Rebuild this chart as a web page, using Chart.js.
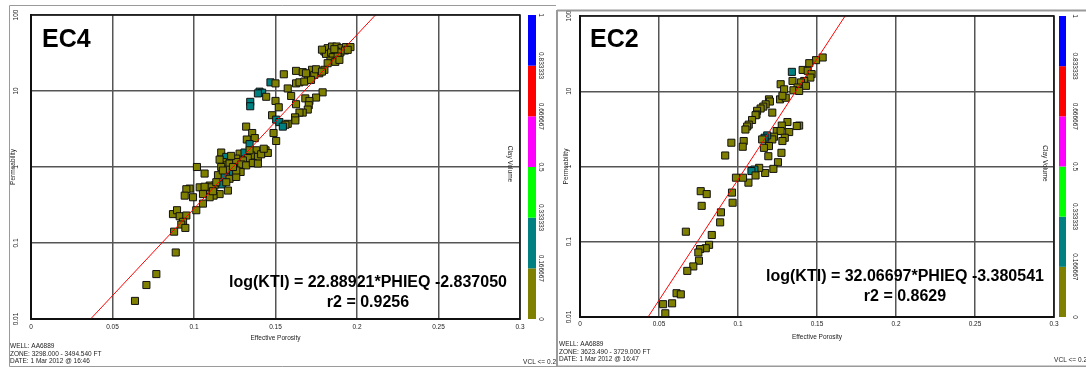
<!DOCTYPE html>
<html><head><meta charset="utf-8">
<script src="https://cdn.jsdelivr.net/npm/chart.js@4/dist/chart.umd.min.js"></script>
<style>
html,body{margin:0;padding:0;background:#fff;overflow:hidden;width:1086px;height:367px}
#c1{position:absolute;left:0;top:0}
#c2{position:absolute;left:556px;top:0}
</style></head><body>
<canvas id="c1" width="556" height="367"></canvas>
<canvas id="c2" width="530" height="367"></canvas>
<script>
// ---- axes / legend ----
const xTicks = [0, 0.05, 0.1, 0.15, 0.2, 0.25, 0.3];
const xTickLabels = ['0', '0.05', '0.1', '0.15', '0.2', '0.25', '0.3'];
const yTicks = [0.01, 0.1, 1, 10, 100];
const yTickLabels = ['0.01', '0.1', '1', '10', '100'];
const clayStops = [0, 0.166667, 0.333333, 0.5, 0.666667, 0.833333, 1];
const clayLabels = ['0', '0.166667', '0.333333', '0.5', '0.666667', '0.833333', '1'];
const clayColors = ['#808000', '#008080', '#00ff00', '#ff00ff', '#ff0000', '#0000ff'];

// ---- EC4 ----
const ec4Phi = [0.180,0.182,0.1847,0.1875,0.1904,0.1932,0.196,0.181,0.1841,0.1871,
 0.1898,0.1926,0.1851,0.1881,0.1837,0.1867,0.1892,0.182,0.1785,0.1861,
 0.1943,0.1551,0.1626,0.1667,0.1724,0.1698,0.1769,0.18,0.1738,0.1626,
 0.1647,0.1677,0.1718,0.1469,0.15,0.1575,0.1402,0.1418,0.1392,0.1443,
 0.1596,0.1789,0.1749,0.1345,0.1345,0.15,0.1683,0.1708,0.1626,0.152,
 0.1704,0.1698,0.1667,0.1647,0.162,0.1479,0.1622,0.1504,0.1524,0.1575,
 0.1561,0.132,0.1545,0.1488,0.1357,0.1504,0.1324,0.1373,0.1341,0.1167,
 0.1198,0.128,0.131,0.1381,0.1439,0.1453,0.1351,0.133,0.1392,0.1412,
 0.13,0.1259,0.1177,0.1198,0.1218,0.1259,0.129,0.132,0.1361,0.1392,
 0.1286,0.1208,0.1239,0.1167,0.1018,0.1065,0.1147,0.1188,0.1218,0.1259,
 0.1259,0.1173,0.1198,0.1126,0.1096,0.1035,0.1086,0.1106,0.1208,0.1157,
 0.112,0.1096,0.1055,0.0973,0.0953,0.0943,0.0994,0.1055,0.1014,0.0871,
 0.0896,0.0912,0.0953,0.0933,0.0922,0.0947,0.0878,0.0888,0.0769,0.0708,
 0.0638,0.1157,0.1228,0.1341,0.1428,0.1239,0.1177,0.1137,0.1065,0.1116,
 0.1749,0.1785,0.1687];
const ec4Perm = [33.1,36.6,38.5,38.5,36.6,37.8,37.8,30.8,32.1,33.1,
 32.1,34.1,27.9,28.4,25.1,24.2,25.7,23.2,35.0,35.5,
 34.8,16.6,18.4,17.7,19.0,15.5,17.1,19.0,16.3,12.6,
 13.0,13.3,14.0,13.0,12.6,10.8,9.8,9.5,9.3,8.4,
 8.6,9.6,8.2,7.2,6.3,7.4,8.0,7.4,6.7,6.1,
 6.5,5.7,5.2,5.2,4.5,4.8,4.1,4.2,3.9,3.7,
 3.6,3.4,3.4,2.8,2.8,2.2,2.3,2.4,2.0,1.55,
 1.36,1.50,1.55,1.66,1.66,1.53,1.42,1.31,1.36,1.47,
 1.22,1.29,1.16,1.05,1.11,1.16,1.08,1.05,1.13,1.11,
 0.86,0.92,0.86,1.0,1.0,0.82,0.78,0.74,0.70,0.74,
 0.90,0.59,0.63,0.57,0.57,0.54,0.50,0.54,0.49,0.44,
 0.42,0.40,0.44,0.52,0.51,0.42,0.40,0.33,0.27,0.24,
 0.27,0.225,0.23,0.19,0.175,0.158,0.141,0.075,0.039,0.028,
 0.0173,1.25,1.40,1.66,1.74,1.0,0.90,0.63,0.55,0.48,
 19.3,18.0,17.1];
const ec4Vcl = [0.1,0.1,0.1,0.1,0.1,0.1,0.1,0.1,0.1,0.1,
 0.1,0.1,0.1,0.1,0.1,0.1,0.1,0.1,0.1,0.1,
 0.1,0.1,0.1,0.1,0.1,0.1,0.1,0.1,0.1,0.1,
 0.1,0.1,0.1,0.22,0.1,0.1,0.22,0.22,0.22,0.1,
 0.1,0.1,0.1,0.22,0.22,0.1,0.1,0.1,0.1,0.1,
 0.1,0.1,0.1,0.1,0.1,0.1,0.1,0.22,0.22,0.1,
 0.1,0.1,0.22,0.1,0.1,0.1,0.1,0.1,0.22,0.1,
 0.22,0.1,0.22,0.1,0.1,0.1,0.1,0.1,0.1,0.1,
 0.1,0.1,0.1,0.1,0.1,0.1,0.1,0.1,0.1,0.1,
 0.1,0.1,0.22,0.1,0.1,0.1,0.1,0.22,0.1,0.1,
 0.1,0.22,0.1,0.1,0.1,0.1,0.1,0.1,0.1,0.1,
 0.1,0.1,0.1,0.1,0.1,0.1,0.1,0.1,0.1,0.1,
 0.1,0.1,0.1,0.1,0.1,0.1,0.1,0.1,0.1,0.1,
 0.1,0.1,0.1,0.1,0.1,0.1,0.1,0.1,0.1,0.1,
 0.1,0.1,0.1];
const ec4Fit = [22.88921, -2.837050];
const ec4R2 = 0.9256;
const ec4Footer = ['WELL: AA6889', 'ZONE: 3298.000 - 3494.540 FT', 'DATE: 1 Mar 2012 @ 16:46'];

// ---- EC2 ----
const ec2Phi = [0.1536,0.1494,0.1451,0.1409,0.1441,0.1466,0.1458,0.1341,0.1345,0.1419,
 0.1398,0.143,0.1377,0.1351,0.1387,0.127,0.1292,0.1266,0.1302,0.1281,
 0.1196,0.1202,0.1175,0.116,0.1143,0.1121,0.1117,0.1111,0.1217,0.1089,
 0.1068,0.1058,0.1047,0.1313,0.1277,0.1245,0.127,0.1324,0.1387,0.1372,
 0.1296,0.1281,0.1228,0.1217,0.1185,0.1168,0.1153,0.1196,0.1164,0.1036,
 0.103,0.0958,0.0919,0.1275,0.1192,0.1253,0.1224,0.1172,0.1134,0.1104,
 0.1085,0.1111,0.1066,0.1032,0.0987,0.0962,0.0966,0.0764,0.0802,0.077,
 0.0892,0.0887,0.0834,0.067,0.0817,0.0796,0.076,0.0749,0.0753,0.0717,
 0.0679,0.0611,0.0638,0.0583,0.0526,0.054];
const ec2Perm = [28.1,25.9,23.6,19.2,18.7,16.9,15.2,18.1,13.7,13.7,
 13.1,11.8,11.2,10.3,10.1,12.4,10.6,7.8,8.2,8.7,
 7.8,7.3,6.7,6.25,5.9,5.5,4.9,4.8,5.2,4.15,
 3.6,3.4,3.1,3.9,3.5,2.96,2.96,2.87,3.5,3.45,
 2.41,2.18,2.49,2.29,2.59,2.41,2.29,1.87,1.77,2.18,
 1.83,2.07,1.40,1.52,1.37,1.14,0.93,0.82,0.96,0.91,
 0.87,0.76,0.61,0.71,0.71,0.45,0.33,0.47,0.43,0.30,
 0.246,0.181,0.123,0.136,0.091,0.082,0.080,0.072,0.056,0.047,
 0.041,0.0207,0.020,0.0152,0.0148,0.0112];
const ec2Vcl = [0.1,0.1,0.1,0.1,0.1,0.1,0.1,0.22,0.1,0.1,
 0.1,0.1,0.1,0.1,0.1,0.1,0.1,0.1,0.1,0.1,
 0.1,0.1,0.1,0.1,0.1,0.1,0.1,0.1,0.1,0.1,
 0.1,0.1,0.1,0.1,0.1,0.1,0.1,0.1,0.1,0.1,
 0.1,0.1,0.1,0.1,0.22,0.22,0.1,0.1,0.1,0.1,
 0.1,0.1,0.1,0.1,0.1,0.1,0.1,0.1,0.1,0.22,
 0.22,0.1,0.1,0.1,0.1,0.1,0.1,0.1,0.1,0.1,
 0.1,0.1,0.1,0.1,0.1,0.1,0.1,0.1,0.1,0.1,
 0.1,0.1,0.1,0.1,0.1,0.1];
const ec2Fit = [32.06697, -3.380541];
const ec2R2 = 0.8629;
const ec2Footer = ['WELL: AA6889', 'ZONE: 3623.490 - 3729.000 FT', 'DATE: 1 Mar 2012 @ 16:47'];

// ---------------------------------------------------------------
const FONT = '"Liberation Sans", Arial, sans-serif';
Chart.defaults.font.family = FONT;

function clayColor(v) {
  for (let i = 0; i < clayColors.length; i++) {
    if (v >= clayStops[i] && v <= clayStops[i + 1]) return clayColors[i];
  }
  return clayColors[0];
}
function rotText(ctx, t, x, y, a) {
  ctx.save(); ctx.translate(x, y); ctx.rotate(a); ctx.fillText(t, 0, 0); ctx.restore();
}

const decor = {
  id: 'decor',
  afterDraw(chart, args, o) {
    const ctx = chart.ctx, ca = chart.chartArea;
    const h = ca.bottom - ca.top;
    ctx.save();
    // panel frame
    ctx.strokeStyle = '#9a9a9a'; ctx.lineWidth = o.panelLW;
    ctx.beginPath();
    o.panel.forEach(seg => { ctx.moveTo(seg[0], seg[1]); ctx.lineTo(seg[2], seg[3]); });
    ctx.stroke();
    // plot frame
    ctx.strokeStyle = '#111'; ctx.lineWidth = 1.5;
    ctx.strokeRect(ca.left, ca.top, ca.right - ca.left, ca.bottom - ca.top);
    // colour bar
    for (let i = 0; i < clayColors.length; i++) {
      const y0 = ca.bottom - clayStops[i] * h, y1 = ca.bottom - clayStops[i + 1] * h;
      ctx.fillStyle = clayColors[i];
      ctx.fillRect(ca.right + o.cbGap, y1, o.cbW, y0 - y1);
    }
    ctx.fillStyle = '#222';
    ctx.font = '6.5px ' + FONT;
    ctx.textAlign = 'center'; ctx.textBaseline = 'middle';
    clayStops.forEach((s, i) => rotText(ctx, clayLabels[i], ca.right + o.cbLabelDx, ca.bottom - s * h, Math.PI / 2));
    rotText(ctx, 'Clay Volume', ca.right - o.clayTitleDx, ca.top + h * 0.49, Math.PI / 2);
    // title
    ctx.fillStyle = '#000';
    ctx.font = 'bold 25px ' + FONT;
    ctx.textAlign = 'left'; ctx.textBaseline = 'alphabetic';
    ctx.fillText(o.title, ca.left + o.titleDx, o.titleY);
    // equation
    ctx.font = 'bold 16px ' + FONT;
    ctx.textAlign = 'center';
    ctx.fillText('log(KTI) = ' + o.fit[0].toFixed(5) + '*PHIEQ ' + o.fit[1].toFixed(6), o.eqX, o.eqY);
    ctx.fillText('r2 = ' + o.r2.toFixed(4), o.eqX, o.eqY + 20);
    // footer
    ctx.font = '6.5px ' + FONT; ctx.fillStyle = '#222';
    ctx.textAlign = 'left';
    o.footer.forEach((t, i) => ctx.fillText(t, o.footX, o.footY + i * 7.7));
    ctx.textAlign = 'right';
    ctx.fillText('VCL <= 0.2', o.vclX, o.footY + 2 * 7.7 + 1);
    ctx.restore();
  }
};

function makeChart(id, phi, perm, vcl, fit, r2, footer, geo) {
  const pts = phi.map((p, i) => ({x: p, y: perm[i]}));
  const cols = vcl.map(clayColor);
  const fitLine = [xTicks[0], xTicks[xTicks.length - 1]].map(x => ({x: x, y: Math.pow(10, fit[0] * x + fit[1])}));
  return new Chart(document.getElementById(id), {
    type: 'scatter',
    data: {datasets: [
      {type: 'line', data: fitLine, borderColor: '#ff0000', borderWidth: 1, pointRadius: 0, fill: false, tension: 0},
      {data: pts, pointStyle: 'rect', pointRadius: 5, backgroundColor: cols, borderColor: '#111', borderWidth: 1}
    ]},
    options: {
      responsive: false, animation: false, devicePixelRatio: 1,
      layout: {padding: {left: 0, top: geo.top, right: geo.right, bottom: 0}},
      plugins: {legend: {display: false}, tooltip: {enabled: false}, decor: geo.decor},
      scales: {
        x: {
          type: 'linear', min: 0, max: 0.3,
          afterBuildTicks: s => { s.ticks = xTicks.map(v => ({value: v})); },
          afterFit: s => { s.height = geo.xh; },
          ticks: {callback: (v, i) => xTickLabels[i], font: {size: 6.5}, color: '#222', padding: geo.xpad, maxRotation: 0, minRotation: 0},
          grid: {color: '#555', lineWidth: 1.5, drawTicks: false},
          border: {color: '#111', width: 2},
          title: {display: true, text: 'Effective Porosity', font: {size: 6.5}, color: '#222', padding: {top: 0, bottom: geo.xtb}}
        },
        y: {
          type: 'logarithmic', min: 0.01, max: 100,
          afterBuildTicks: s => { s.ticks = yTicks.map(v => ({value: v})); },
          afterFit: s => { s.width = geo.yw; },
          ticks: {callback: (v, i) => yTickLabels[i], font: {size: 6.5}, color: '#222', padding: geo.ypad, minRotation: 90, maxRotation: 90, crossAlign: 'center'},
          grid: {color: '#555', lineWidth: 1.5, drawTicks: false},
          border: {color: '#111', width: 2},
          title: {display: true, text: 'Permeability', font: {size: 6.5}, color: '#222', padding: {top: geo.ytt, bottom: 0}}
        }
      }
    },
    plugins: [decor]
  });
}

makeChart('c1', ec4Phi, ec4Perm, ec4Vcl, ec4Fit, ec4R2, ec4Footer, {
  top: 15, right: 36, xh: 48, yw: 31, xpad: 4, ypad: 8, xtb: 25, ytt: 9,
  decor: {title: 'EC4', titleDx: 11, titleY: 47, fit: ec4Fit, r2: ec4R2, eqX: 368, eqY: 287,
    footer: ec4Footer, footX: 10, footY: 348, vclX: 556, cbGap: 8, cbW: 8, cbLabelDx: 21, clayTitleDx: 10,
    panelLW: 1, panel: [[9.5, 5.5, 556, 5.5], [9.5, 5.5, 9.5, 366.5], [9.5, 366.5, 556, 366.5]]}
});
makeChart('c2', ec2Phi, ec2Perm, ec2Vcl, ec2Fit, ec2R2, ec2Footer, {
  top: 16, right: 32, xh: 50, yw: 24, xpad: 3, ypad: 4, xtb: 26, ytt: 6,
  decor: {title: 'EC2', titleDx: 10, titleY: 47, fit: ec2Fit, r2: ec2R2, eqX: 349, eqY: 281,
    footer: ec2Footer, footX: 3, footY: 346, vclX: 531, cbGap: 5, cbW: 7, cbLabelDx: 21, clayTitleDx: 9,
    panelLW: 2, panel: [[1, 10.5, 530, 10.5], [1, 10, 1, 367], [1, 366.5, 530, 366.5]]}
});
</script>
</body></html>
